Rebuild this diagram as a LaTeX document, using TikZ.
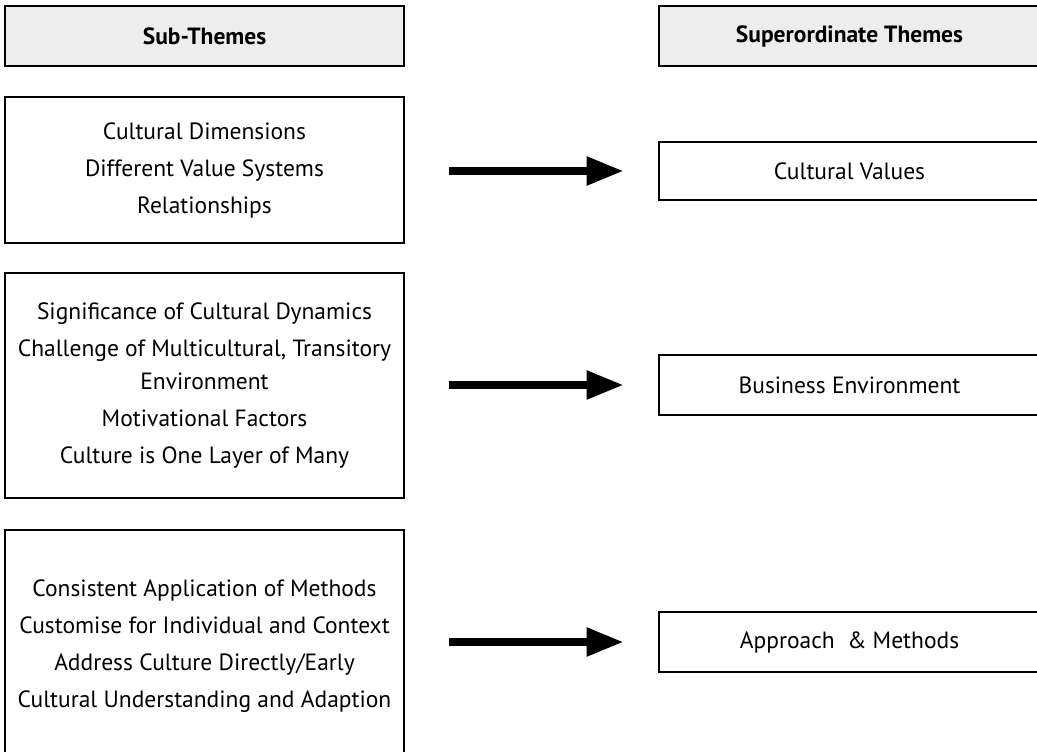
\documentclass[tikz,border=0pt]{standalone}
\usepackage{fontspec}
\setmainfont{PT Sans}
\usetikzlibrary{arrows.meta}
\begin{document}
\begin{tikzpicture}[x=1pt,y=-1pt,
  box/.style={draw=black,line width=2.6pt,inner sep=0pt,align=center,font=\fontsize{23.5}{33}\selectfont},
  hdr/.style={box,fill=black!7,font=\fontsize{23.5}{26}\selectfont\bfseries},
  bigarrow/.style={line width=8pt,-{Triangle[length=37pt,width=27pt]}}
]
\useasboundingbox (0,0) rectangle (1037,752);
% headers
\node[hdr,minimum width=399pt,minimum height=60pt] (hsub) at (204.5,36) {Sub-Themes};
\node[hdr,minimum width=381pt,minimum height=60pt] (hsup) at (849.5,36) {Superordinate Themes};
% left boxes
\node[box,minimum width=399pt,minimum height=146pt] (b1) at (204.5,170)
  {\raisebox{0pt}{}Cultural Dimensions\\[4pt] Different Value Systems\\[4pt] Relationships};
\node[box,minimum width=399pt,minimum height=225pt] (b2) at (204.5,385.5)
  {Significance of Cultural Dynamics\\[4pt] Challenge of Multicultural, Transitory\\ Environment\\[4pt] Motivational Factors\\[4pt] Culture is One Layer of Many};
\node[box,minimum width=399pt,minimum height=232pt] (b3) at (204.5,646)
  {Consistent Application of Methods\\[4pt] Customise for Individual and Context\\[4pt] Address Culture Directly/Early\\[4pt] Cultural Understanding and Adaption};
% right boxes
\node[box,minimum width=381pt,minimum height=58pt] (t1) at (849.5,171) {Cultural Values};
\node[box,minimum width=381pt,minimum height=60pt] (t2) at (849.5,385) {Business Environment};
\node[box,minimum width=381pt,minimum height=60pt] (t3) at (849.5,642) {Approach\ \ \&\ Methods};
% arrows
\draw[bigarrow,shorten <=44pt,shorten >=34pt] (b1.east |- t1.west) -- (t1.west);
\draw[bigarrow,shorten <=44pt,shorten >=34pt] (b2.east |- t2.west) -- (t2.west);
\draw[bigarrow,shorten <=44pt,shorten >=34pt] (b3.east |- t3.west) -- (t3.west);
\end{tikzpicture}
\end{document}
